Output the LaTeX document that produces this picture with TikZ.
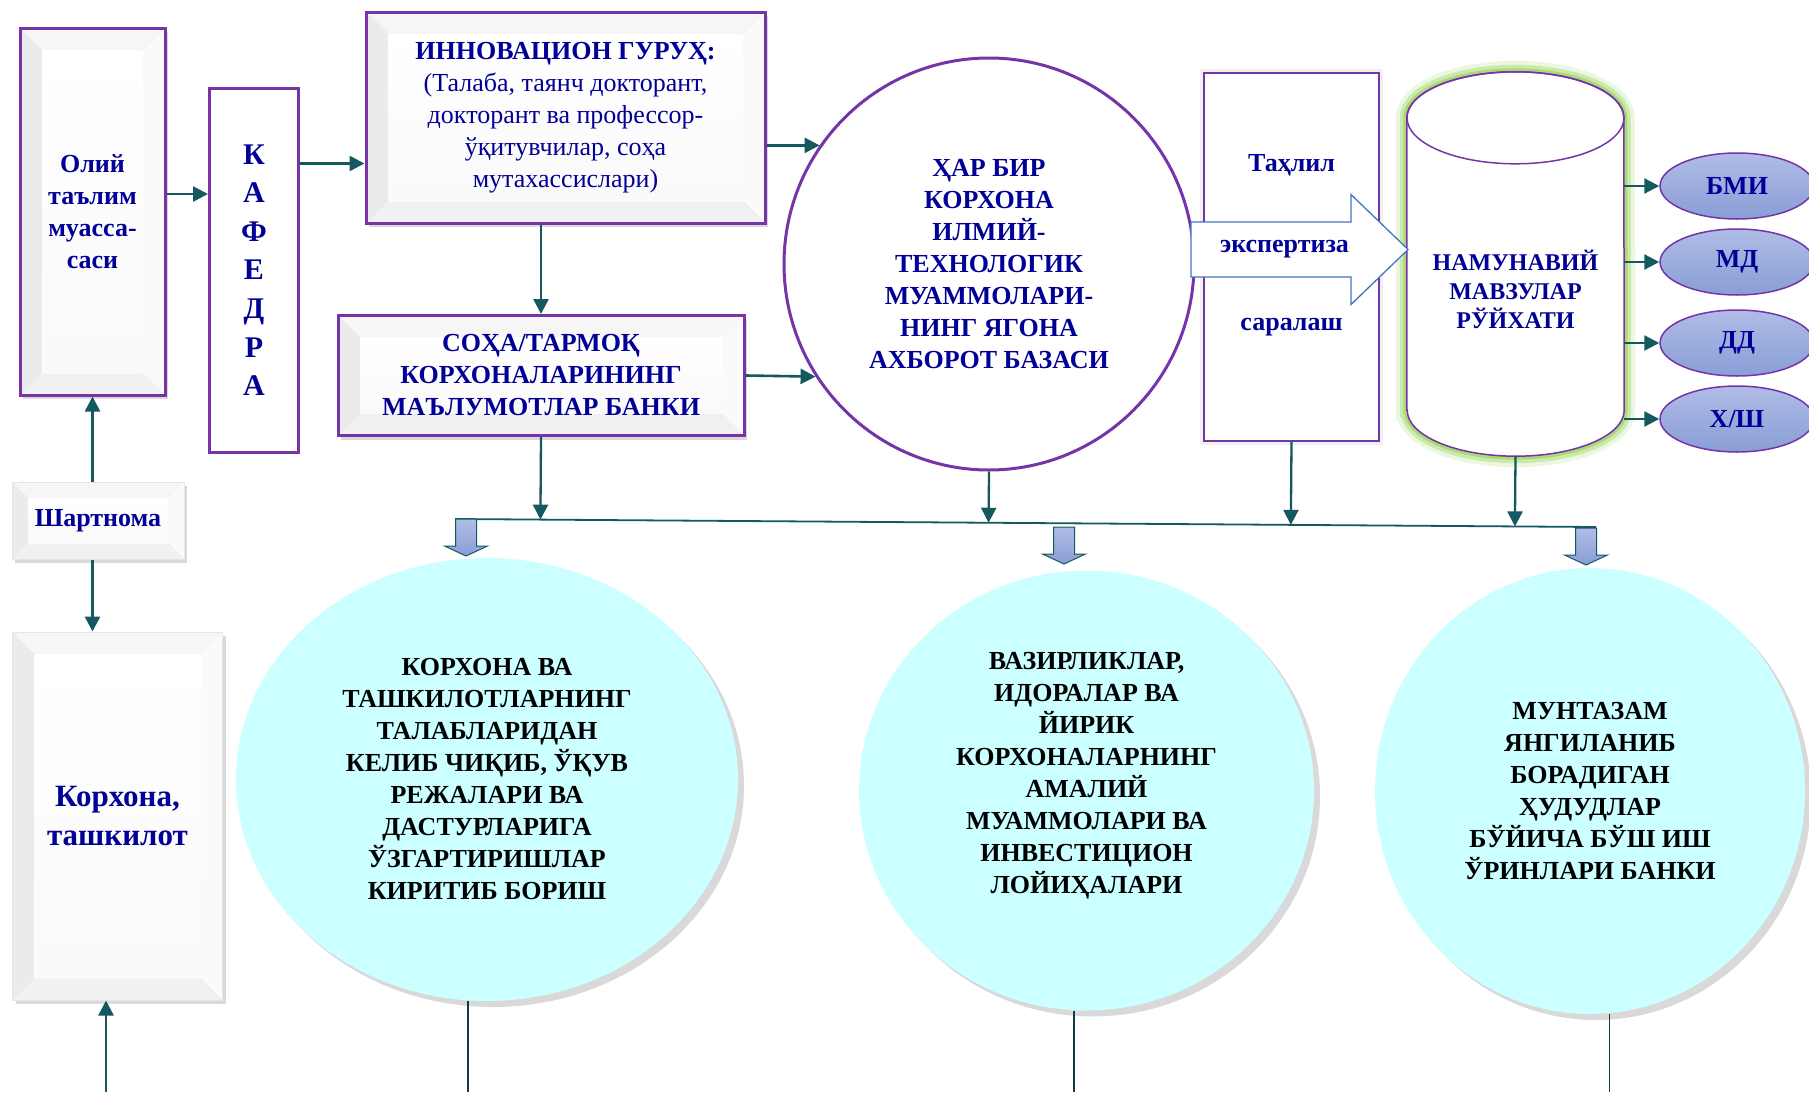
\documentclass[tikz,border=0pt]{standalone}
\usepackage{fontspec}
\setmainfont{Liberation Serif}
\usetikzlibrary{positioning}
\usetikzlibrary{calc}
\usetikzlibrary{shapes.geometric, arrows.meta, shadows}

\definecolor{boxpurple}{RGB}{118,52,168}
\definecolor{textblue}{RGB}{0,0,150}
\definecolor{linkteal}{RGB}{20,88,96}
\definecolor{paleCyan}{RGB}{204,255,255}
\definecolor{arrowblue}{RGB}{68,114,196}
\definecolor{chipTop}{RGB}{176,188,230}
\definecolor{chipBottom}{RGB}{136,158,214}
\definecolor{glowgreen}{RGB}{146,208,80}

\tikzset{bevel/.style={path picture={
    \coordinate (bnw) at (path picture bounding box.north west);
    \coordinate (bse) at (path picture bounding box.south east);
    \coordinate (bne) at (bnw -| bse);
    \coordinate (bsw) at (bnw |- bse);
    \coordinate (inw) at ($(bnw)+(#1,#1)$);
    \coordinate (ise) at ($(bse)+(-#1,-#1)$);
    \coordinate (ine) at (inw -| ise);
    \coordinate (isw) at (inw |- ise);
    \fill[gray!7] (bnw) -- (bne) -- (ine) -- (inw) -- cycle;
    \fill[gray!16] (bnw) -- (inw) -- (isw) -- (bsw) -- cycle;
    \fill[gray!4] (bne) -- (bse) -- (ise) -- (ine) -- cycle;
    \fill[gray!11] (bsw) -- (isw) -- (ise) -- (bse) -- cycle;
    \shade[top color=white, bottom color=gray!4] (inw) rectangle (ise);
}}, bevel/.default=22}

\tikzstyle{bluetext} = [font=\fontsize{26}{32}\selectfont\bfseries, text=textblue, align=center, inner sep=0pt]
\tikzstyle{box} = [rectangle, draw=boxpurple, line width=3pt, drop shadow={shadow xshift=3pt, shadow yshift=-4pt, opacity=0.3}, bluetext]
\tikzstyle{greybox} = [rectangle, draw=gray!20, line width=1pt, drop shadow={shadow xshift=3pt, shadow yshift=-4pt, opacity=0.3}, bluetext]
\tikzstyle{plainbox} = [rectangle, draw=boxpurple, line width=3pt, fill=white, bluetext]
\tikzstyle{circlebox} = [ellipse, draw=boxpurple, line width=3pt, fill=white, minimum width=410pt, minimum height=412pt, bluetext]
\tikzstyle{tahlilbox} = [rectangle, draw=boxpurple, line width=1.5pt, fill=white, minimum width=175pt, minimum height=368pt, preaction={draw=gray, line width=8pt, opacity=0.12}]
\tikzstyle{bubble} = [ellipse, fill=paleCyan, drop shadow={shadow xshift=6pt, shadow yshift=-6pt, opacity=0.3}, font=\fontsize{26}{32}\selectfont\bfseries, align=center, inner sep=0pt]
\tikzstyle{chip} = [ellipse, draw=boxpurple, line width=1.5pt, top color=chipTop, bottom color=chipBottom, minimum width=154pt, minimum height=66pt, bluetext]
\tikzstyle{arrow} = [line width=2.6pt, draw=linkteal, ->, >={Triangle[length=15pt,width=15pt]}]
\tikzstyle{busline} = [line width=1.8pt, draw=linkteal]
\tikzstyle{thinline} = [line width=1.2pt, draw=linkteal!70!black]
\tikzstyle{blockarrow} = [draw=linkteal, line width=1pt, top color=chipTop, bottom color=chipBottom]
\tikzstyle{expertarrow} = [draw=arrowblue, line width=1.3pt, fill=white]

\begin{document}
\begin{tikzpicture}[x=1pt, y=-1pt]
    \path[use as bounding box] (0,0) rectangle (1809,1092);
    \clip (0,0) rectangle (1809,1092);

    % --- left column ---

    % higher education institution
    \node[box, bevel, minimum width=145pt, minimum height=367pt] at (92.5, 211.5) (olii) {Олий\\таълим\\муасса-\\саси};

    % department box on the right of olii
    \node[plainbox, minimum width=89pt, minimum height=364pt, font=\fontsize{30}{38.6}\selectfont\bfseries]
        at ($(olii.east)+(87.5, 58.5)$) (kafedra) {К\\А\\Ф\\Е\\Д\\Р\\А};

    % contract box below olii
    \node[greybox, bevel=16, minimum width=172pt, minimum height=77pt] at (98, 520.5) (shartnoma) {Шартнома};

    % enterprise box below contract
    \node[greybox, bevel, minimum width=210pt, minimum height=368pt, font=\fontsize{31}{39}\selectfont\bfseries]
        at (117.5, 816) (korxona) {Корхона,\\ташкилот};

    % --- upper row ---

    % innovation group
    \node[box, bevel, minimum width=399pt, minimum height=211pt] at (565.5, 117.5) (innov)
        {ИННОВАЦИОН ГУРУҲ:\\\mdseries(Талаба, таянч докторант,\\\mdseries докторант ва  профессор-\\\mdseries ўқитувчилар, соҳа\\\mdseries мутахассислари)};

    % industry data bank below innovation group
    \node[box, bevel, minimum width=406pt, minimum height=120pt] at ($(innov.south)+(-24.5, 151)$) (soha)
        {СОҲА/ТАРМОҚ\\КОРХОНАЛАРИНИНГ\\МАЪЛУМОТЛАР БАНКИ};

    % big circle: common database
    \node[circlebox] at (989, 264) (base)
        {ҲАР БИР\\КОРХОНА\\ИЛМИЙ-\\ТЕХНОЛОГИК\\МУАММОЛАРИ-\\НИНГ ЯГОНА\\АХБОРОТ БАЗАСИ};

    % analysis box on the right of base
    \node[tahlilbox] at ($(base.center)+(302.5,-7)$) (tahlil) {};
    \node[bluetext] at ($(tahlil.center)+(0,-92)$) (tahlil_top) {Таҳлил};
    \node[bluetext] at ($(tahlil.center)+(0,70)$) (tahlil_bot) {саралаш};

    % cylinder: list of topics
    \node[minimum width=217pt, minimum height=384pt, inner sep=0pt] at (1515.5, 264) (list) {};
    \foreach \w/\o in {22/0.18, 14/0.35, 7/0.6} {
        \draw[glowgreen, line width=\w pt, opacity=\o]
            ($(list.south west)+(0,-46)$) -- ($(list.north west)+(0,46)$)
            arc[start angle=180, end angle=360, x radius=108.5, y radius=46]
            -- ($(list.south east)+(0,-46)$)
            arc[start angle=0, end angle=180, x radius=108.5, y radius=46] -- cycle;
    }
    \filldraw[fill=white, draw=boxpurple, line width=1.5pt]
        ($(list.south west)+(0,-46)$) -- ($(list.north west)+(0,46)$)
        arc[start angle=180, end angle=360, x radius=108.5, y radius=46]
        -- ($(list.south east)+(0,-46)$)
        arc[start angle=0, end angle=180, x radius=108.5, y radius=46] -- cycle;
    \draw[boxpurple, line width=1.5pt] ($(list.north)+(0,46)$) ellipse [x radius=108.5, y radius=46];
    \node[bluetext, font=\fontsize{24}{29}\selectfont\bfseries] at ($(list.center)+(0,25)$) (list_text)
        {НАМУНАВИЙ\\МАВЗУЛАР\\РЎЙХАТИ};

    % expertise arrow over the analysis box
    \coordinate (exp_c) at ($(tahlil.center)+(0,-7.5)$);
    \draw[expertarrow] ($(exp_c)+(-100.5,-27.5)$) -- ++(160,0) -- ++(0,-27.5) -- ++(57,55)
        -- ++(-57,55) -- ++(0,-27.5) -- ++(-160,0) -- cycle;
    \node[bluetext] at ($(exp_c)+(-7,0)$) (expert) {экспертиза};

    % degree chips on the right of the cylinder
    \node[chip] at (1737, 186) (bmi) {БМИ};
    \node[chip] at ($(bmi)+(0,76)$) (md) {МД};
    \node[chip] at ($(md)+(0,81)$) (dd) {ДД};
    \node[chip] at ($(dd)+(0,76)$) (xsh) {Х/Ш};

    % --- lower row ---

    % requirements bubble
    \node[bubble, minimum width=502pt, minimum height=443pt] at (487, 779.5) (e1)
        {КОРХОНА ВА\\ТАШКИЛОТЛАРНИНГ\\ТАЛАБЛАРИДАН\\КЕЛИБ ЧИҚИБ, ЎҚУВ\\РЕЖАЛАРИ ВА\\ДАСТУРЛАРИГА\\ЎЗГАРТИРИШЛАР\\КИРИТИБ БОРИШ};

    % ministries bubble (text sits a little high)
    \node[bubble, minimum width=455pt, minimum height=440pt, text depth=36pt] at (1086.5, 790.5) (e2)
        {ВАЗИРЛИКЛАР,\\ИДОРАЛАР ВА\\ЙИРИК\\КОРХОНАЛАРНИНГ\\АМАЛИЙ\\МУАММОЛАРИ ВА\\ИНВЕСТИЦИОН\\ЛОЙИҲАЛАРИ};

    % job bank bubble
    \node[bubble, minimum width=430pt, minimum height=446pt] at (1590, 791) (e3)
        {МУНТАЗАМ\\ЯНГИЛАНИБ\\БОРАДИГАН\\ҲУДУДЛАР\\БЎЙИЧА БЎШ ИШ\\ЎРИНЛАРИ БАНКИ};

    % --- connectors ---

    % olii to kafedra
    \coordinate (olii_out) at ($(olii.east)+(0,-17.5)$);
    \draw[arrow] (olii_out) -- (olii_out -| kafedra.west);

    % kafedra to innov
    \coordinate (innov_in) at ($(innov.west)+(0,46)$);
    \draw[arrow] (innov_in -| kafedra.east) -- (innov_in);

    % innov and soha into the big circle
    \draw[arrow] (innov.east |- base.145) -- (base.145);
    \draw[arrow] (soha.east) -- (base.213);

    % innov down to soha
    \draw[arrow] (innov.south -| soha.north) -- (soha.north);

    % contract up to olii and down to korxona
    \draw[arrow] (olii.south |- shartnoma.north) -- (olii.south);
    \draw[arrow] (olii.south |- shartnoma.south) -- (olii.south |- korxona.north);

    % incoming arrow below korxona
    \coordinate (korxona_in) at (106, 1092);
    \draw[arrow] (korxona_in) -- (korxona_in |- korxona.south);

    % cylinder to chips
    \foreach \c in {bmi, md, dd, xsh} {
        \draw[arrow, line width=2.3pt] (list.east |- \c.west) -- (\c.west);
    }

    % common bus line
    \coordinate (bus_l) at (455, 519);
    \coordinate (bus_r) at (1596, 527);
    \draw[busline] (bus_l) -- (bus_r);

    % arrows down onto the bus
    \foreach \src in {soha, base, tahlil, list} {
        \draw[arrow, line width=2.3pt] (\src.south) -- ($(bus_l)!(\src.south)!(bus_r)$);
    }

    % block arrows from bus to bubbles
    \coordinate (e1_in) at (466, 519);
    \coordinate (e2_in) at (1064, 527);
    \coordinate (e3_in) at (1586, 528);
    \foreach \e in {e1, e2, e3} {
        \draw[blockarrow] ($(\e_in)+(-10.5,0)$) -- ++(21,0) -- ++(0,27) -- ++(11,0)
            -- ++(-21.5,10) -- ++(-21.5,-10) -- ++(11,0) -- cycle;
    }

    % lines leaving the bubbles downwards
    \foreach \e/\x in {e1/468, e2/1074, e3/1609.5} {
        \coordinate (\e_out) at (\x, 1092);
        \draw[thinline] (\e_out |- \e.south) -- (\e_out);
    }

\end{tikzpicture}
\end{document}
